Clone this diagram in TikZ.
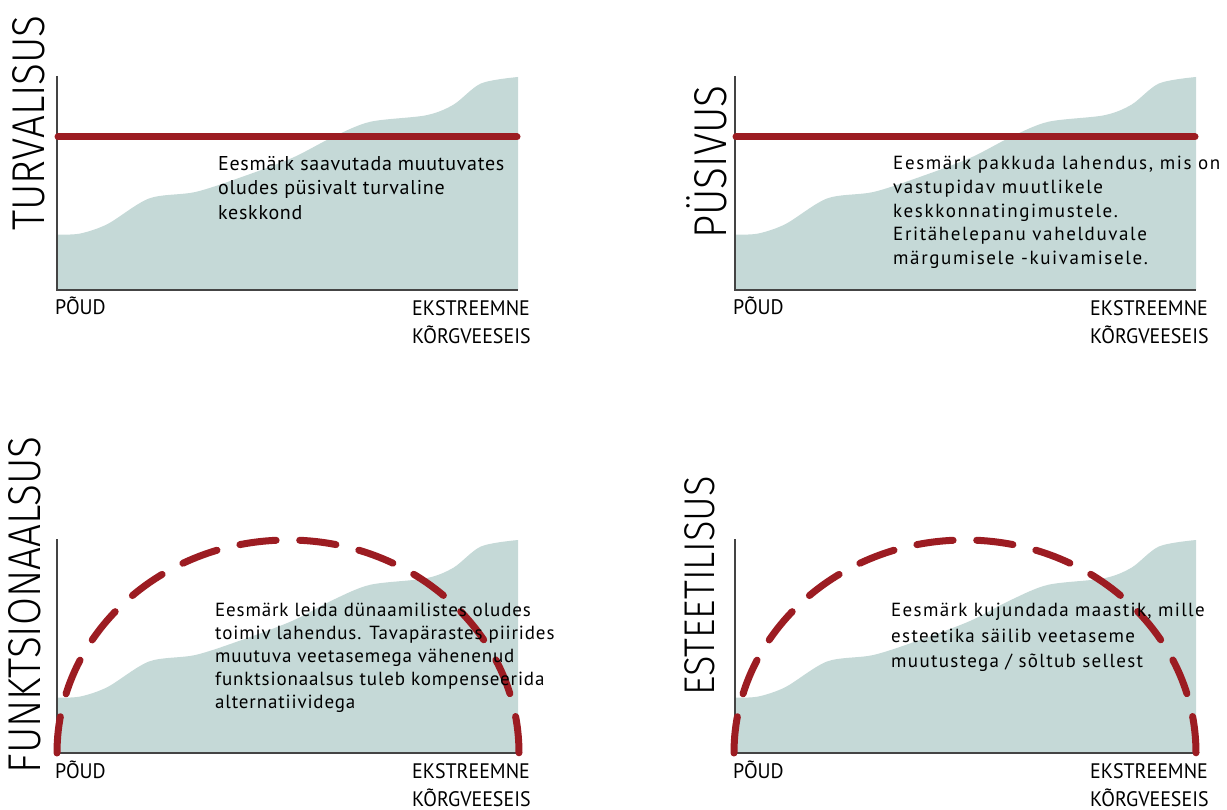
\documentclass[tikz,border=0pt]{standalone}
\usepackage{fontspec}
\setmainfont{PT Sans}
\newfontfamily\titlefont[FakeStretch=0.88]{Fira Sans Light}
\newfontfamily\capsfont[FakeStretch=0.95]{PT Sans}
\usetikzlibrary{positioning}

\definecolor{water}{HTML}{C5D9D7}
\definecolor{goalred}{HTML}{9C1C22}
\definecolor{axisgray}{HTML}{444444}

\tikzset{
  axisline/.style={draw=axisgray, line width=1.5pt},
  goalline/.style={draw=goalred, line width=7pt, line cap=round},
  goalarc/.style={draw=goalred, line width=7pt, line cap=round, dash pattern=on 36.5pt off 23.6pt},
  paneltitle/.style={rotate=90, inner sep=0pt, font=\titlefont\fontsize{46}{46}\selectfont},
  endlabel/.style={anchor=base west, inner sep=0pt, align=left, font=\capsfont\fontsize{21}{28}\selectfont},
  goaltext/.style={anchor=north west, inner sep=0pt, align=left},
}

\begin{document}
\begin{tikzpicture}[x=1pt, y=-1pt]

      % Definitions
      \def\w{461}   % Width of a panel
      \def\h{213}   % Height of a panel
      \def\rx{231}  % Half-width of the dashed arc
      \def\ry{213}  % Height of the dashed arc

      % One panel: water level area, axes and end labels
      \def\panel#1#2#3{%
        \begin{scope}[shift={(#2,#3)}]
          \fill[water] [x=\w pt, y=\h pt] (0,0) -- plot[smooth] coordinates {(0,0.26) (0.05,0.265) (0.11,0.31) (0.2,0.43) (0.3,0.46) (0.4,0.53) (0.51,0.62) (0.6,0.72) (0.68,0.79) (0.8,0.82) (0.86,0.87) (0.92,0.97) (1,1)} -- (1,0) -- cycle;
          \draw[axisline] (0,-\h-1) -- (0,0) -- (\w,0);
          \node[endlabel] (#1-low) at (-2,25) {PÕUD};
          \node[endlabel, anchor=north west] (#1-high) at (355,10) {EKSTREEMNE\\KÕRGVEESEIS};
        \end{scope}}

      \useasboundingbox (0,0) rectangle (1227,810);

      % Draw commands
      \panel{tl}{57}{290}
      \panel{tr}{735}{290}
      \panel{bl}{57}{753}
      \panel{br}{735}{753}

      \draw[goalline] (58,137) -- (517,137);
      \draw[goalline] (736,137) -- (1195,137);
      \draw[goalarc] (57,753) arc[start angle=180, end angle=0, x radius=\rx pt, y radius=\ry pt];
      \draw[goalarc] (734,753) arc[start angle=180, end angle=0, x radius=\rx pt, y radius=\ry pt];

      \node[paneltitle] (safety) at (29,123) {TURVALISUS};
      \node[paneltitle] (durability) at (707,162) {PÜSIVUS};
      \node[paneltitle] (function) at (25,605) {FUNKTSIONAALSUS};
      \node[paneltitle, font=\titlefont\fontsize{43}{43}\selectfont] (aesthetics) at (700,586) {ESTEETILISUS};

      \node[goaltext, font=\addfontfeatures{LetterSpace=3.5}\fontsize{20}{24.5}\selectfont] (safety-goal) at (218,156) {Eesmärk saavutada muutuvates\\oludes püsivalt turvaline\\keskkond};
      \node[goaltext, font=\addfontfeatures{LetterSpace=8.5}\fontsize{19}{23.7}\selectfont] (durability-goal) at (893,156) {Eesmärk pakkuda lahendus, mis on\\vastupidav muutlikele\\keskkonnatingimustele.\\Eritähelepanu vahelduvale\\märgumisele -kuivamisele.};
      \node[goaltext, font=\addfontfeatures{LetterSpace=4.5}\fontsize{19}{23}\selectfont] (function-goal) at (215,603) {Eesmärk leida dünaamilistes oludes\\toimiv lahendus. Tavapärastes piirides\\muutuva veetasemega vähenenud\\funktsionaalsus tuleb kompenseerida\\alternatiividega};
      \node[goaltext, font=\addfontfeatures{LetterSpace=7}\fontsize{19}{25.5}\selectfont] (aesthetics-goal) at (891,603) {Eesmärk kujundada maastik, mille\\esteetika säilib veetaseme\\muutustega / sõltub sellest};

   \end{tikzpicture}
\end{document}
